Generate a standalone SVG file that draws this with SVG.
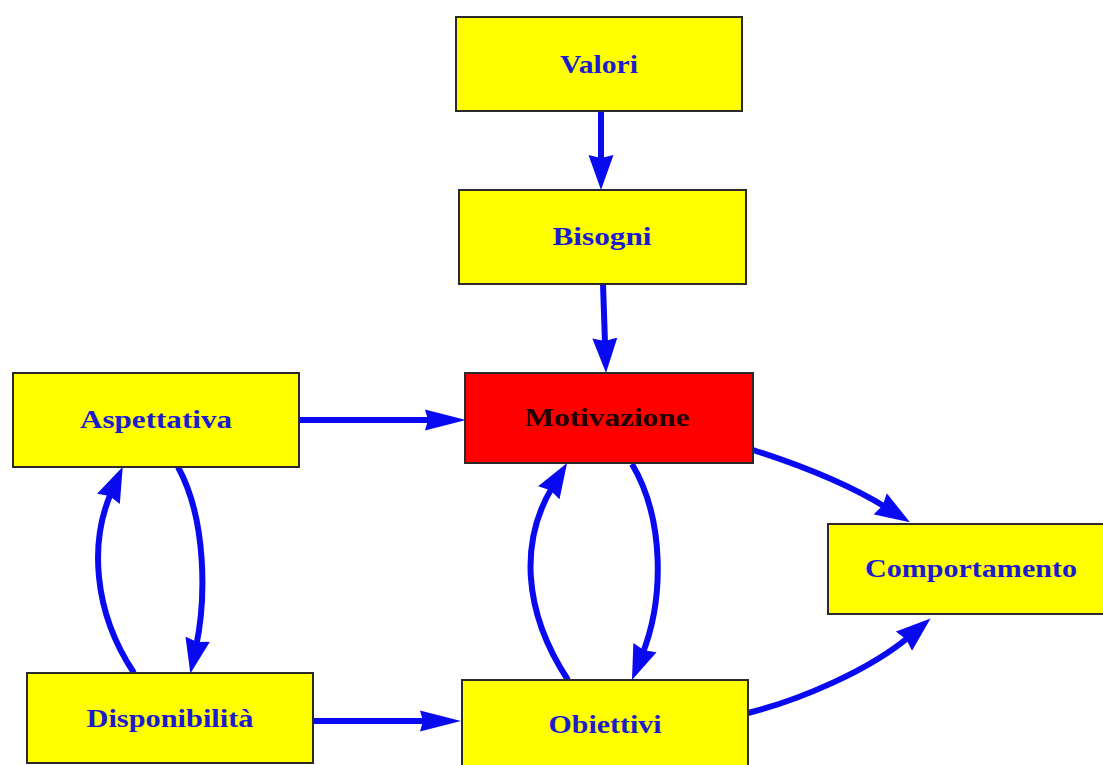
<svg xmlns="http://www.w3.org/2000/svg" width="1103" height="765" viewBox="0 0 1103 765">
<defs>
<style>
.box{fill:#ffff00;stroke:#2a2a2a;stroke-width:2}
.red{fill:#ff0000;stroke:#2a2a2a;stroke-width:2}
.lbl{font-family:"Liberation Serif","Times New Roman",serif;font-weight:bold;font-size:26px;fill:#1c1ccc;text-anchor:middle}
.dark{fill:#200000}
.edge{fill:none;stroke:#0a0af0;stroke-width:6;stroke-linecap:butt}
</style>
<marker id="ah" markerUnits="userSpaceOnUse" markerWidth="36" markerHeight="26" refX="8" refY="13" orient="auto" viewBox="0 0 36 26">
<path d="M0,0.5 L35,13 L0,25.5 L3,13 Z" fill="#0a0af0"/>
</marker>
<marker id="ahh" markerUnits="userSpaceOnUse" markerWidth="42" markerHeight="22" refX="8" refY="11" orient="auto" viewBox="0 0 42 22">
<path d="M0,0.5 L41,11 L0,21.5 L3,11 Z" fill="#0a0af0"/>
</marker>
</defs>
<rect width="1103" height="765" fill="#ffffff"/>
<g id="edges">
<path class="edge" d="M601,111 L601,163" marker-end="url(#ah)"/>
<path class="edge" d="M603,284 L605.1,346" marker-end="url(#ah)"/>
<path class="edge" d="M299,420 L433,420" marker-end="url(#ahh)"/>
<path class="edge" d="M313,721 L428,721" marker-end="url(#ahh)"/>
<path class="edge" d="M134,673 C92,610 90,540 111.7,491.5" marker-end="url(#ah)"/>
<path class="edge" d="M178,467 C207,520 206,600 196,647" marker-end="url(#ah)"/>
<path class="edge" d="M568,680 C522,610 520,540 553,486" marker-end="url(#ah)"/>
<path class="edge" d="M632,464 C665,520 664,600 642,655" marker-end="url(#ah)"/>
<path class="edge" d="M753,450 C800,465 850,485 887,508" marker-end="url(#ah)"/>
<path class="edge" d="M748,713 C800,700 870,670 910,636" marker-end="url(#ah)"/>
</g>
<g id="valori">
<rect class="box" x="456" y="17" width="286" height="94"/>
<text class="lbl" x="599" y="73" textLength="78" lengthAdjust="spacingAndGlyphs">Valori</text>
</g>
<g id="bisogni">
<rect class="box" x="459" y="190" width="287" height="94"/>
<text class="lbl" x="602" y="245" textLength="99" lengthAdjust="spacingAndGlyphs">Bisogni</text>
</g>
<g id="aspettativa">
<rect class="box" x="13" y="373" width="286" height="94"/>
<text class="lbl" x="156" y="428" textLength="152" lengthAdjust="spacingAndGlyphs">Aspettativa</text>
</g>
<g id="motivazione">
<rect class="red" x="465" y="373" width="288" height="90"/>
<text class="lbl dark" x="607" y="426" textLength="165" lengthAdjust="spacingAndGlyphs">Motivazione</text>
</g>
<g id="comportamento">
<rect class="box" x="828" y="524" width="290" height="90"/>
<text class="lbl" x="971" y="577" textLength="212" lengthAdjust="spacingAndGlyphs">Comportamento</text>
</g>
<g id="disponibilita">
<rect class="box" x="27" y="673" width="286" height="90"/>
<text class="lbl" x="170" y="727" textLength="167" lengthAdjust="spacingAndGlyphs">Disponibilità</text>
</g>
<g id="obiettivi">
<rect class="box" x="462" y="680" width="286" height="95"/>
<text class="lbl" x="605" y="733" textLength="113" lengthAdjust="spacingAndGlyphs">Obiettivi</text>
</g>
</svg>
